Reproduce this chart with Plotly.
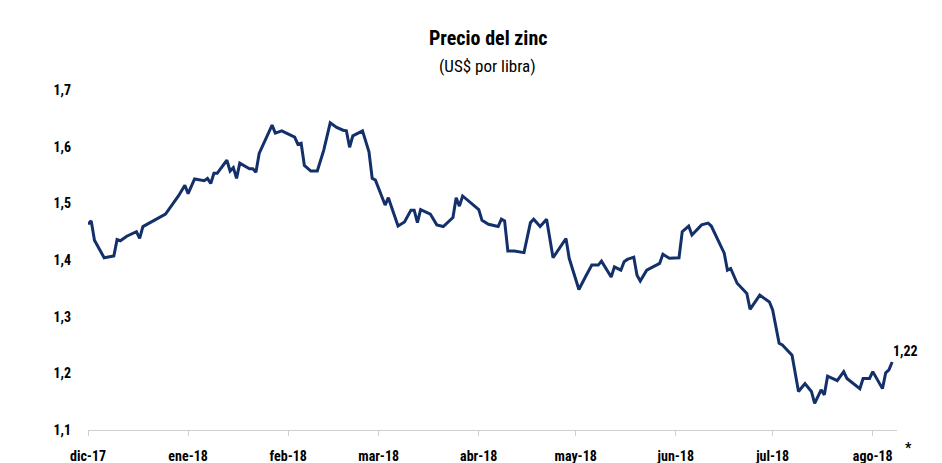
import plotly.graph_objects as go

dates = [
    "2017-12-01", "2017-12-02", "2017-12-03", "2017-12-05", "2017-12-06", "2017-12-09",
    "2017-12-10", "2017-12-11", "2017-12-13", "2017-12-16", "2017-12-17", "2017-12-18",
    "2017-12-25", "2017-12-29", "2017-12-31", "2018-01-01", "2018-01-03", "2018-01-06",
    "2018-01-07", "2018-01-08", "2018-01-09", "2018-01-10", "2018-01-13", "2018-01-14",
    "2018-01-15", "2018-01-16", "2018-01-17", "2018-01-20", "2018-01-21", "2018-01-22",
    "2018-01-23", "2018-01-27", "2018-01-28", "2018-01-30", "2018-02-01", "2018-02-03",
    "2018-02-04", "2018-02-05", "2018-02-06", "2018-02-08", "2018-02-10", "2018-02-12",
    "2018-02-14", "2018-02-16", "2018-02-18", "2018-02-19", "2018-02-20", "2018-02-21",
    "2018-02-24", "2018-02-26", "2018-02-27", "2018-02-28", "2018-03-03", "2018-03-04",
    "2018-03-07", "2018-03-09", "2018-03-11", "2018-03-12", "2018-03-13", "2018-03-14",
    "2018-03-17", "2018-03-19", "2018-03-21", "2018-03-24", "2018-03-25", "2018-03-26",
    "2018-03-27", "2018-04-01", "2018-04-02", "2018-04-04", "2018-04-07", "2018-04-08",
    "2018-04-09", "2018-04-10", "2018-04-12", "2018-04-15", "2018-04-17", "2018-04-18",
    "2018-04-20", "2018-04-22", "2018-04-24", "2018-04-26", "2018-04-28", "2018-04-29",
    "2018-05-02", "2018-05-04", "2018-05-06", "2018-05-08", "2018-05-09", "2018-05-12",
    "2018-05-13", "2018-05-15", "2018-05-16", "2018-05-17", "2018-05-19", "2018-05-20",
    "2018-05-21", "2018-05-23", "2018-05-27", "2018-05-28", "2018-05-30", "2018-06-02",
    "2018-06-03", "2018-06-05", "2018-06-06", "2018-06-09", "2018-06-11", "2018-06-12",
    "2018-06-14", "2018-06-16", "2018-06-17", "2018-06-18", "2018-06-20", "2018-06-23",
    "2018-06-24", "2018-06-27", "2018-06-30", "2018-07-01", "2018-07-03", "2018-07-04",
    "2018-07-07", "2018-07-09", "2018-07-11", "2018-07-13", "2018-07-14", "2018-07-16",
    "2018-07-17", "2018-07-18", "2018-07-21", "2018-07-23", "2018-07-24", "2018-07-28",
    "2018-07-29", "2018-07-31", "2018-08-01", "2018-08-04", "2018-08-05", "2018-08-06",
    "2018-08-07",
]

prices = [
    1.463, 1.469, 1.435, 1.414, 1.404, 1.407,
    1.436, 1.434, 1.442, 1.450, 1.438, 1.459,
    1.481, 1.513, 1.532, 1.517, 1.543, 1.540,
    1.544, 1.535, 1.553, 1.553, 1.576, 1.557,
    1.563, 1.544, 1.571, 1.561, 1.561, 1.555,
    1.588, 1.638, 1.624, 1.628, 1.622, 1.617,
    1.604, 1.606, 1.567, 1.557, 1.557, 1.594,
    1.642, 1.634, 1.629, 1.628, 1.599, 1.619,
    1.628, 1.591, 1.544, 1.541, 1.497, 1.510,
    1.460, 1.467, 1.488, 1.488, 1.466, 1.489,
    1.481, 1.462, 1.459, 1.475, 1.510, 1.495,
    1.513, 1.489, 1.470, 1.463, 1.459, 1.472,
    1.469, 1.416, 1.416, 1.413, 1.466, 1.472,
    1.459, 1.472, 1.404, 1.420, 1.438, 1.403,
    1.348, 1.370, 1.391, 1.391, 1.398, 1.370,
    1.388, 1.382, 1.397, 1.401, 1.405, 1.373,
    1.363, 1.382, 1.394, 1.410, 1.403, 1.404,
    1.450, 1.460, 1.444, 1.462, 1.465, 1.460,
    1.436, 1.412, 1.382, 1.385, 1.359, 1.341,
    1.313, 1.338, 1.326, 1.312, 1.253, 1.250,
    1.232, 1.168, 1.182, 1.168, 1.147, 1.171,
    1.162, 1.195, 1.187, 1.203, 1.191, 1.173,
    1.191, 1.191, 1.203, 1.173, 1.201, 1.206,
    1.220,
]

tick_dates = ["2017-12-01", "2018-01-01", "2018-02-01", "2018-03-01", "2018-04-01",
              "2018-05-01", "2018-06-01", "2018-07-01", "2018-08-01"]
tick_labels = ["dic-17", "ene-18", "feb-18", "mar-18", "abr-18",
               "may-18", "jun-18", "jul-18", "ago-18"]
y_ticks = [1.1, 1.2, 1.3, 1.4, 1.5, 1.6, 1.7]

FONT = "Liberation Sans Narrow, Arial Narrow, Roboto Condensed, DejaVu Sans Condensed, sans-serif"
LINE = "#13306b"

fig = go.Figure()
fig.add_trace(go.Scatter(x=dates, y=prices, mode="lines",
                         line=dict(color=LINE, width=3), hoverinfo="x+y"))

# last value label
fig.add_annotation(x=dates[-1], y=prices[-1], text="<b>1,22</b>", showarrow=False,
                   xanchor="left", yanchor="bottom", xshift=-1, yshift=1,
                   font=dict(family=FONT, size=14, color="#000000"))
# asterisk after last x label
fig.add_annotation(xref="paper", yref="paper", x=1.0, y=0.0, text="<b>*</b>",
                   showarrow=False, xanchor="left", yanchor="top", xshift=6, yshift=-8,
                   font=dict(family=FONT, size=14, color="#000000"))
# title and subtitle
fig.add_annotation(xref="paper", yref="paper", x=0.494, y=1.0, text="<b>Precio del zinc</b>",
                   showarrow=False, xanchor="center", yanchor="middle", yshift=52,
                   font=dict(family=FONT, size=20, color="#000000"))
fig.add_annotation(xref="paper", yref="paper", x=0.494, y=1.0, text="(US$ por libra)",
                   showarrow=False, xanchor="center", yanchor="middle", yshift=24,
                   font=dict(family=FONT, size=17, color="#000000"))

fig.update_layout(
    width=934, height=455,
    margin=dict(l=80, r=45, t=82, b=33),
    paper_bgcolor="white", plot_bgcolor="white",
    separators=",.",
    showlegend=False,
    font=dict(family=FONT, color="#000000"),
    xaxis=dict(
        type="date",
        range=["2017-12-01", "2018-08-08 12:00"],
        tickvals=tick_dates, ticktext=["<b>%s</b>" % t for t in tick_labels],
        tickfont=dict(family=FONT, size=14, color="#000000"),
        showgrid=False, zeroline=False, automargin=False,
        showline=True, linecolor="#d0d0d0", linewidth=1,
        ticks="outside", ticklen=5, tickcolor="#d0d0d0", tickwidth=1,
        ticklabelstandoff=8,
    ),
    yaxis=dict(
        range=[1.1, 1.7], automargin=False,
        tickvals=y_ticks, ticktext=["<b>%s</b>" % ("%.1f" % v).replace(".", ",") for v in y_ticks],
        tickfont=dict(family=FONT, size=14, color="#000000"),
        showgrid=False, zeroline=False, showline=False,
        ticks="", ticklabelstandoff=16,
    ),
)

fig.write_html("out.html")
